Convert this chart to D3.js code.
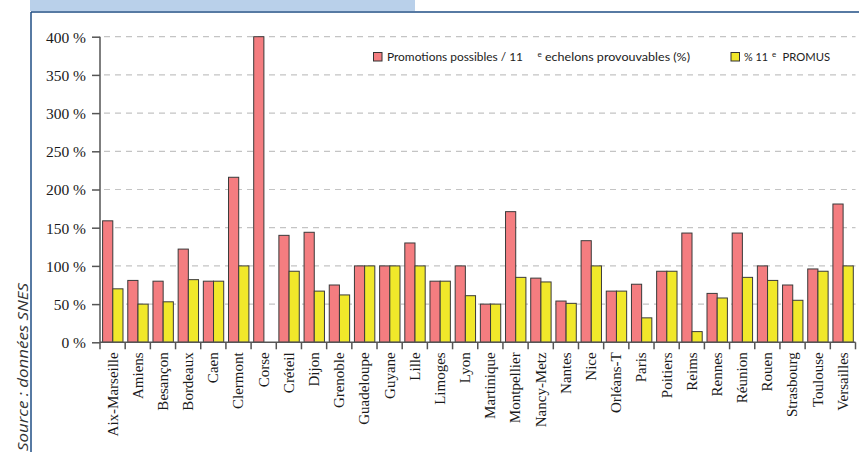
<!DOCTYPE html>
<html><head><meta charset="utf-8">
<script src="https://cdn.jsdelivr.net/npm/d3@7/dist/d3.min.js"></script>
<style>body{margin:0;background:#fff;}svg{display:block;}</style>
</head><body>
<script>
const categories = ["Aix-Marseille","Amiens","Besançon","Bordeaux","Caen","Clermont","Corse","Créteil","Dijon","Grenoble","Guadeloupe","Guyane","Lille","Limoges","Lyon","Martinique","Montpellier","Nancy-Metz","Nantes","Nice","Orléans-T","Paris","Poitiers","Reims","Rennes","Réunion","Rouen","Strasbourg","Toulouse","Versailles"];
const promotionsPossibles = [159,81,80,122,80,216,400,140,144,75,100,100,130,80,100,50,171,84,54,133,67,76,93,143,64,143,100,75,96,181];
const promus = [70,50,53,82,80,100,0,93,67,62,100,100,100,80,61,50,85,79,51,100,67,32,93,14,58,85,81,55,93,100];
const yTicks = [0,50,100,150,200,250,300,350,400];
const seriesNames = ["Promotions possibles / 11", "% 11"];

const W = 859, H = 452;
const svg = d3.select("body").append("svg").attr("width", W).attr("height", H);

// frame
svg.append("rect").attr("x",30).attr("y",0).attr("width",385).attr("height",11).attr("fill","#b9d0ea");
svg.append("line").attr("x1",31).attr("x2",W).attr("y1",12).attr("y2",12).attr("stroke","#1f4e85").attr("stroke-width",1.5);
svg.append("line").attr("x1",31).attr("x2",31).attr("y1",12).attr("y2",H).attr("stroke","#1f4e85").attr("stroke-width",1.5);

const y = d3.scaleLinear().domain([0,400]).range([342.3, 36.7]);
const x = d3.scaleBand().domain(categories).range([100, 855.5]).paddingInner(0).paddingOuter(0);
const xs = d3.scaleBand().domain([0,1]).range([2.6, x.bandwidth()-2.2]).padding(0);

// grid
svg.append("g").selectAll("line").data(yTicks.filter(d=>d>0)).join("line")
  .attr("x1",104).attr("x2",855.5).attr("y1",d=>y(d)).attr("y2",d=>y(d))
  .attr("stroke","#c4c4c4").attr("stroke-width",1.2).attr("stroke-dasharray","6,5");

// bars
const colors = ["#f47d80","#f1e82a"];
const g = svg.append("g");
categories.forEach((c,i)=>{
  [promotionsPossibles[i], promus[i]].forEach((v,s)=>{
    if (v<=0) return;
    g.append("rect")
      .attr("x", x(c)+xs(s)).attr("width", xs.bandwidth())
      .attr("y", y(v)).attr("height", y(0)-y(v))
      .attr("fill", colors[s]).attr("stroke","#3a3a3a").attr("stroke-width",1);
  });
});

// y axis
const yAxis = svg.append("g").attr("transform","translate(100,0)")
  .call(d3.axisLeft(y).tickValues(yTicks).tickSize(8).tickPadding(6).tickFormat(d=>d+" %"));
yAxis.select(".domain").attr("stroke","#555").attr("stroke-width",1.5).attr("d","M0,"+y(400)+"V"+y(0));
yAxis.selectAll(".tick line").attr("stroke","#555").attr("stroke-width",1.5);
yAxis.selectAll(".tick text").attr("font-family","'Liberation Serif','Times New Roman',serif").attr("font-size","15.5px").attr("fill","#1a1a1a").attr("dy","0.35em");

// x axis
const xAxis = svg.append("g").attr("transform","translate(0,"+y(0)+")")
  .call(d3.axisBottom(x).tickSize(0).tickPadding(0));
xAxis.select(".domain").attr("stroke","#555").attr("stroke-width",1.5).attr("d","M100,0H855.5");
xAxis.selectAll(".tick text")
  .attr("font-family","'Liberation Serif','Times New Roman',serif").attr("font-size","15px").attr("fill","#1a1a1a")
  .attr("text-anchor","end").attr("transform","rotate(-90)").attr("x",-10).attr("y",0).attr("dy","0.33em");
const bounds = categories.map(c=>x(c)).concat([x.range()[1]]);
svg.append("g").selectAll("line").data(bounds).join("line")
  .attr("x1",d=>d).attr("x2",d=>d).attr("y1",y(0)).attr("y2",y(0)+7)
  .attr("stroke","#555").attr("stroke-width",1.5);

// legend
const lf = "Lato,'Open Sans',sans-serif";
const leg = svg.append("g").attr("font-family",lf).attr("fill","#222");
leg.append("rect").attr("x",373.5).attr("y",52.5).attr("width",8.5).attr("height",8.5).attr("fill",colors[0]).attr("stroke","#333");
leg.append("text").attr("x",387).attr("y",61).attr("font-size","12px").attr("textLength",136).attr("lengthAdjust","spacingAndGlyphs").text(seriesNames[0]);
leg.append("text").attr("x",537.5).attr("y",57).attr("font-size","8px").text("e");
leg.append("text").attr("x",545).attr("y",61).attr("font-size","12px").attr("textLength",145).attr("lengthAdjust","spacingAndGlyphs").text("echelons provouvables (%)");
leg.append("rect").attr("x",731).attr("y",52.5).attr("width",8.5).attr("height",8.5).attr("fill",colors[1]).attr("stroke","#333");
leg.append("text").attr("x",744).attr("y",61).attr("font-size","12px").attr("textLength",24).attr("lengthAdjust","spacingAndGlyphs").text(seriesNames[1]);
leg.append("text").attr("x",772).attr("y",57).attr("font-size","8px").text("e");
leg.append("text").attr("x",782.5).attr("y",61).attr("font-size","12px").attr("textLength",47.5).attr("lengthAdjust","spacingAndGlyphs").text("PROMUS");

// source
svg.append("text").attr("transform","translate(28,451) rotate(-90)")
  .attr("font-family","'Open Sans',sans-serif").attr("font-style","italic").attr("font-size","15px").attr("fill","#333")
  .attr("textLength",168).attr("lengthAdjust","spacingAndGlyphs")
  .text("Source : données SNES");
</script>
</body></html>
